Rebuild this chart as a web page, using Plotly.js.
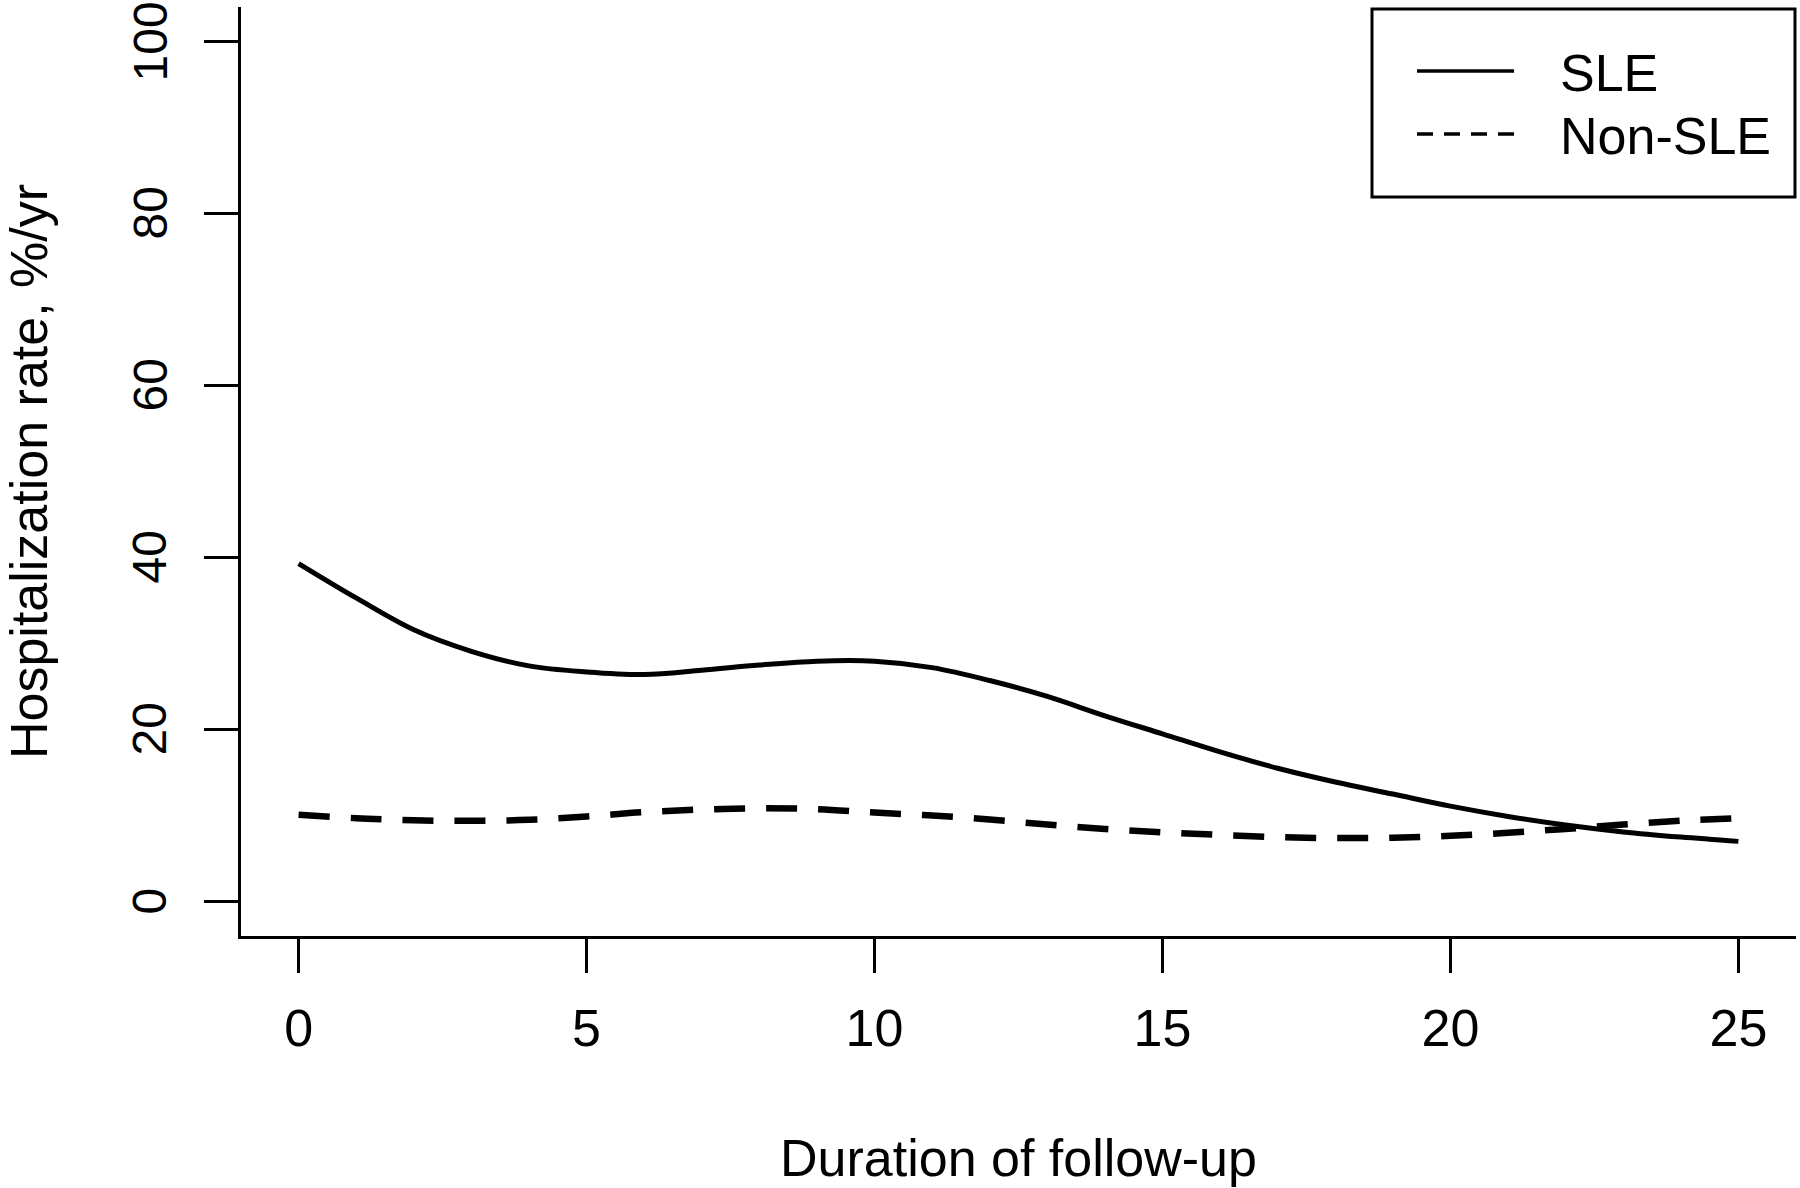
<!DOCTYPE html>
<html>
<head>
<meta charset="utf-8">
<script src="https://cdn.plot.ly/plotly-3.0.1.min.js"></script>
<style>html,body{margin:0;padding:0;background:#fff;}#chart{width:1800px;height:1188px;}</style>
</head>
<body>
<div id="chart"></div>
<script>
const years = [0,1,2,3,4,5,6,7,8,9,10,11,12,13,14,15,16,17,18,19,20,21,22,23,24,25];
const sleRate = [39.3,35.3,31.6,29.1,27.4,26.7,26.4,26.9,27.5,27.95,27.95,27.2,25.7,23.85,21.6,19.5,17.4,15.5,13.9,12.5,11.1,9.9,8.9,8.1,7.5,7.0];
const nonSleRate = [10.1,9.7,9.45,9.4,9.5,9.9,10.4,10.7,10.85,10.75,10.35,10.0,9.55,8.95,8.45,8.05,7.75,7.5,7.38,7.42,7.65,8.0,8.45,8.95,9.4,9.7];
const xTicks = [0,5,10,15,20,25];
const yTicks = [0,20,40,60,80,100];
const seriesNames = ['SLE','Non-SLE'];

const FONT = 'Liberation Sans, Arial, Helvetica, sans-serif';

// plot-area geometry in pixels (used to place the hand-drawn legend box and y labels)
const M = {l: 241, r: 4, t: 7, b: 252};
const W = 1800, H = 1188;
const PW = W - M.l - M.r, PH = H - M.t - M.b;
const px = v => (v - M.l) / PW;
const py = v => (H - M.b - v) / PH;

const traces = [
  {x: years, y: sleRate, name: seriesNames[0], type: 'scatter', mode: 'lines', showlegend: false,
   line: {color: '#000', width: 5, shape: 'spline', smoothing: 1}},
  {x: years, y: nonSleRate, name: seriesNames[1], type: 'scatter', mode: 'lines', showlegend: false,
   line: {color: '#000', width: 6.5, dash: '31px,21px', shape: 'spline', smoothing: 1}}
];

const axisCommon = {
  showgrid: false, zeroline: false, showline: true, linecolor: '#000', linewidth: 3,
  ticks: 'outside', ticklen: 34, tickwidth: 2.5, tickcolor: '#000',
  automargin: false, fixedrange: true, ticklabeloverflow: 'allow'
};

const shapes = [
  {type: 'rect', xref: 'paper', yref: 'paper', x0: px(1372), x1: px(1795), y0: py(197), y1: py(9),
   line: {color: '#000', width: 3}, fillcolor: 'rgba(0,0,0,0)', layer: 'above'},
  {type: 'line', xref: 'paper', yref: 'paper', x0: px(1417), x1: px(1514), y0: py(71), y1: py(71),
   line: {color: '#000', width: 3.5}},
  {type: 'line', xref: 'paper', yref: 'paper', x0: px(1417), x1: px(1514), y0: py(134), y1: py(134),
   line: {color: '#000', width: 3.5, dash: '16px,11px'}}
];

const annotations = [
  {xref: 'paper', yref: 'paper', x: px(1558), y: py(73), xanchor: 'left', yanchor: 'middle',
   text: seriesNames[0], showarrow: false, font: {family: FONT, size: 52, color: '#000'}},
  {xref: 'paper', yref: 'paper', x: px(1558), y: py(136), xanchor: 'left', yanchor: 'middle',
   text: seriesNames[1], showarrow: false, font: {family: FONT, size: 52, color: '#000'}}
].concat(yTicks.map(v => ({
  xref: 'paper', yref: 'y', x: px(150), y: v, xanchor: 'center', yanchor: 'middle',
  text: String(v), textangle: -90, showarrow: false,
  font: {family: FONT, size: 48, color: '#000'}
})));

const layout = {
  width: W, height: H,
  margin: {l: M.l, r: M.r, t: M.t, b: M.b, pad: 0},
  paper_bgcolor: '#fff', plot_bgcolor: '#fff',
  font: {family: FONT, color: '#000'},
  showlegend: false,
  shapes: shapes,
  annotations: annotations,
  xaxis: Object.assign({}, axisCommon, {
    range: [-1, 26], tickvals: xTicks, ticktext: xTicks.map(String),
    tickfont: {family: FONT, size: 52, color: '#000'},
    ticklabelstandoff: 11,
    title: {text: 'Duration of follow-up', font: {family: FONT, size: 52, color: '#000'}, standoff: 84}
  }),
  yaxis: Object.assign({}, axisCommon, {
    range: [-4, 104], tickvals: yTicks, showticklabels: false,
    title: {text: 'Hospitalization rate, %/yr', font: {family: FONT, size: 52, color: '#000'}, standoff: 148}
  })
};

Plotly.newPlot('chart', traces, layout, {displayModeBar: false, staticPlot: true});
</script>
</body>
</html>
